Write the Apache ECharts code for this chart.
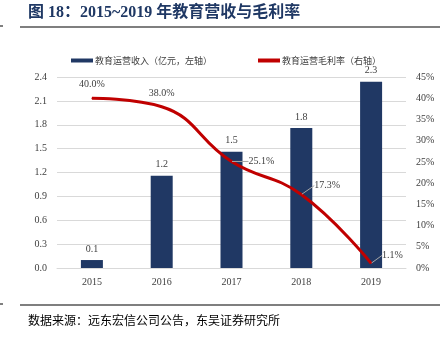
<!DOCTYPE html>
<html><head><meta charset="utf-8">
<script src="https://cdn.jsdelivr.net/npm/echarts@6/dist/echarts.min.js"></script>
<style>html,body{margin:0;padding:0;background:#fff;}#c{width:447px;height:343px;}</style>
</head><body><div id="c"></div>
<script>
var categories = ['2015','2016','2017','2018','2019'];
var revenue = [0.10, 1.16, 1.46, 1.76, 2.34];
var margin = [40.0, 38.0, 25.1, 17.3, 1.1];
var leftTicks = {min:0, max:2.4, interval:0.3};
var rightTicks = {min:0, max:45, interval:5};
var titleText = '图 18：2015~2019 年教育营收与毛利率';
var sourceText = '数据来源：远东宏信公司公告，东吴证券研究所';
var seriesNames = ['教育运营收入（亿元，左轴）','教育运营毛利率（右轴）'];

var serif = '"Liberation Serif","Times New Roman",serif';
var chart = echarts.init(document.getElementById('c'));
var labelOffsets = [[0,-14],[0,-13],[17,0],[13,-9],[11,-8]];
var marginData = margin.map(function(v, i){
  return {value:v, labelLine:{show: i >= 2}};
});
chart.setOption({
  animation:false,
  graphic:[
    {type:'text', left:28, top:5, style:{text:titleText, font:'bold 16px "Liberation Serif","Noto Sans CJK SC",serif', fill:'#1F3864'}},
    {type:'line', shape:{x1:20,y1:27,x2:440,y2:27}, style:{stroke:'#000', lineWidth:1.2}},
    {type:'line', shape:{x1:0,y1:26,x2:3,y2:26}, style:{stroke:'#000', lineWidth:1}},
    {type:'line', shape:{x1:20,y1:305,x2:440,y2:305}, style:{stroke:'#000', lineWidth:1.2}},
    {type:'line', shape:{x1:0,y1:304,x2:3,y2:304}, style:{stroke:'#000', lineWidth:1}},
    {type:'text', left:28, top:314, style:{text:sourceText, font:'12px "Noto Sans CJK SC",sans-serif', fill:'#000'}}
  ],
  legend:{
    top:51, left:66, itemGap:46, itemWidth:22, itemHeight:4, icon:'rect',
    textStyle:{fontSize:9, color:'#404040', fontFamily:'"Noto Sans CJK SC",sans-serif', padding:[0,0,0,-3]},
    data:seriesNames
  },
  grid:{left:57, right:41, top:77, bottom:75},
  xAxis:{
    type:'category', data:categories,
    axisLine:{lineStyle:{color:'#D9D9D9'}}, axisTick:{show:false},
    axisLabel:{color:'#404040', fontSize:10, fontFamily:serif, margin:9}
  },
  yAxis:[
    {type:'value', min:leftTicks.min, max:leftTicks.max, interval:leftTicks.interval,
     axisLabel:{color:'#404040', fontSize:10, fontFamily:serif, margin:10, formatter:function(v){return v.toFixed(1);}},
     splitLine:{lineStyle:{color:'#D9D9D9'}}, axisLine:{show:false}, axisTick:{show:false}},
    {type:'value', min:rightTicks.min, max:rightTicks.max, interval:rightTicks.interval,
     axisLabel:{color:'#404040', fontSize:10, fontFamily:serif, margin:10, formatter:'{value}%'},
     splitLine:{show:false}, axisLine:{show:false}, axisTick:{show:false}}
  ],
  series:[
    {name:seriesNames[0], type:'bar', data:revenue, barWidth:22, yAxisIndex:0,
     itemStyle:{color:'#203864'},
     label:{show:true, position:'top', distance:6, color:'#404040', fontSize:10, fontFamily:serif,
       formatter:function(p){return p.value.toFixed(1);}}},
    {name:seriesNames[1], type:'line', data:marginData, yAxisIndex:1, smooth:0.45, showSymbol:true, symbol:'circle', symbolSize:1,
     lineStyle:{color:'#C00000', width:3}, itemStyle:{color:'#C00000'},
     label:{show:true, position:'inside', color:'#404040', fontSize:10, fontFamily:serif,
       formatter:function(p){return p.value.toFixed(1)+'%';}},
     labelLine:{show:true, lineStyle:{color:'#A6A6A6', width:1}},
     labelLayout:function(p){
       var o = labelOffsets[p.dataIndex];
       var w = p.labelRect.width;
       return {dx:o[0] + (o[0]>0 ? w/2 : 0), dy:o[1]};
     },
     z:5}
  ]
});
</script></body></html>
